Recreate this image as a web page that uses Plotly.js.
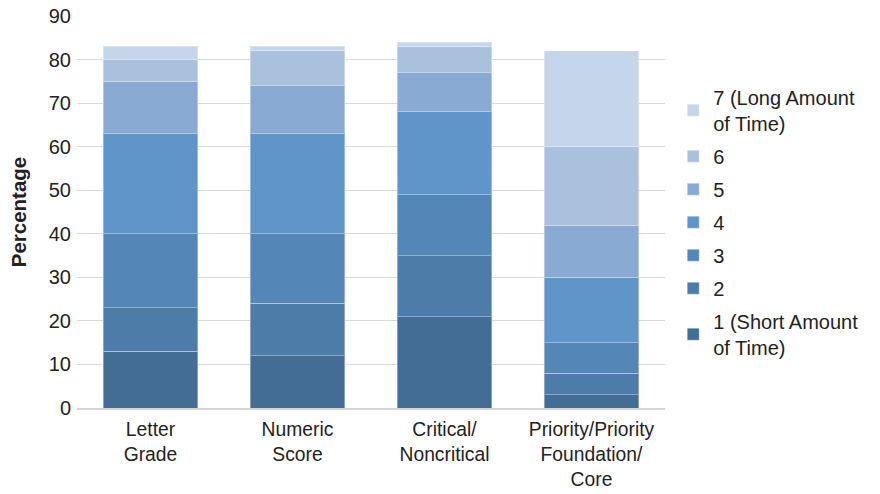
<!DOCTYPE html>
<html><head><meta charset="utf-8">
<script src="https://cdn.plot.ly/plotly-3.0.1.min.js"></script>
<style>html,body{margin:0;padding:0;background:#fff}#chart{width:880px;height:494px}</style>
</head><body><div id="chart"></div>
<script>
const categories = ["Letter<br>Grade", "Numeric<br>Score", "Critical/<br>Noncritical", "Priority/Priority<br>Foundation/<br>Core"];
const seriesNames = ["1 (Short Amount<br>of Time)", "2", "3", "4", "5", "6", "7 (Long Amount<br>of Time)"];
const s1 = [13, 12, 21, 3];
const s2 = [10, 12, 14, 5];
const s3 = [17, 16, 14, 7];
const s4 = [23, 23, 19, 15];
const s5 = [12, 11, 9, 12];
const s6 = [5, 8, 6, 18];
const s7 = [3, 1, 1, 22];
const colors = ["#446d95", "#4d7ca8", "#5586b8", "#5f95c8", "#88aad3", "#aac1de", "#c5d6eb"];
const seriesValues = [s1, s2, s3, s4, s5, s6, s7];

const traces = seriesValues.map((vals, i) => ({
  type: "bar",
  name: seriesNames[i],
  x: categories,
  y: vals,
  legendgroup: "g" + i,
  legendrank: 100 - i,
  marker: {color: colors[i], line: {color: "rgba(255,255,255,0.35)", width: 1}},
  hoverinfo: "y+name"
}));

const layout = {
  width: 880, height: 494,
  barmode: "stack",
  bargap: 0.36,
  paper_bgcolor: "#fff", plot_bgcolor: "#fff",
  margin: {l: 77, r: 215, t: 16, b: 86},
  font: {family: "Liberation Sans, Arial, sans-serif", size: 20, color: "#222"},
  xaxis: {
    showgrid: false, showline: true, linecolor: "#d4d4d4", linewidth: 2,
    ticks: "", tickfont: {size: 19.3, color: "#222"}, ticklabelstandoff: 3
  },
  yaxis: {
    range: [0, 90], dtick: 10, showgrid: true, gridcolor: "#d9d9d9", gridwidth: 1,
    zeroline: false, showline: false, ticks: "",
    tickfont: {size: 20, color: "#222"}, ticklabelstandoff: 5,
    title: {text: "<b>Percentage</b>", font: {size: 20.5, color: "#222"}, standoff: 16}
  },
  legend: {
    x: 1.014, xanchor: "left", y: 0.474, yanchor: "middle",
    traceorder: "grouped", tracegroupgap: 4,
    font: {size: 20, color: "#222"},
    itemwidth: 30
  },
  showlegend: true
};
Plotly.newPlot("chart", traces, layout, {displayModeBar: false, staticPlot: true});
</script>
</body></html>
